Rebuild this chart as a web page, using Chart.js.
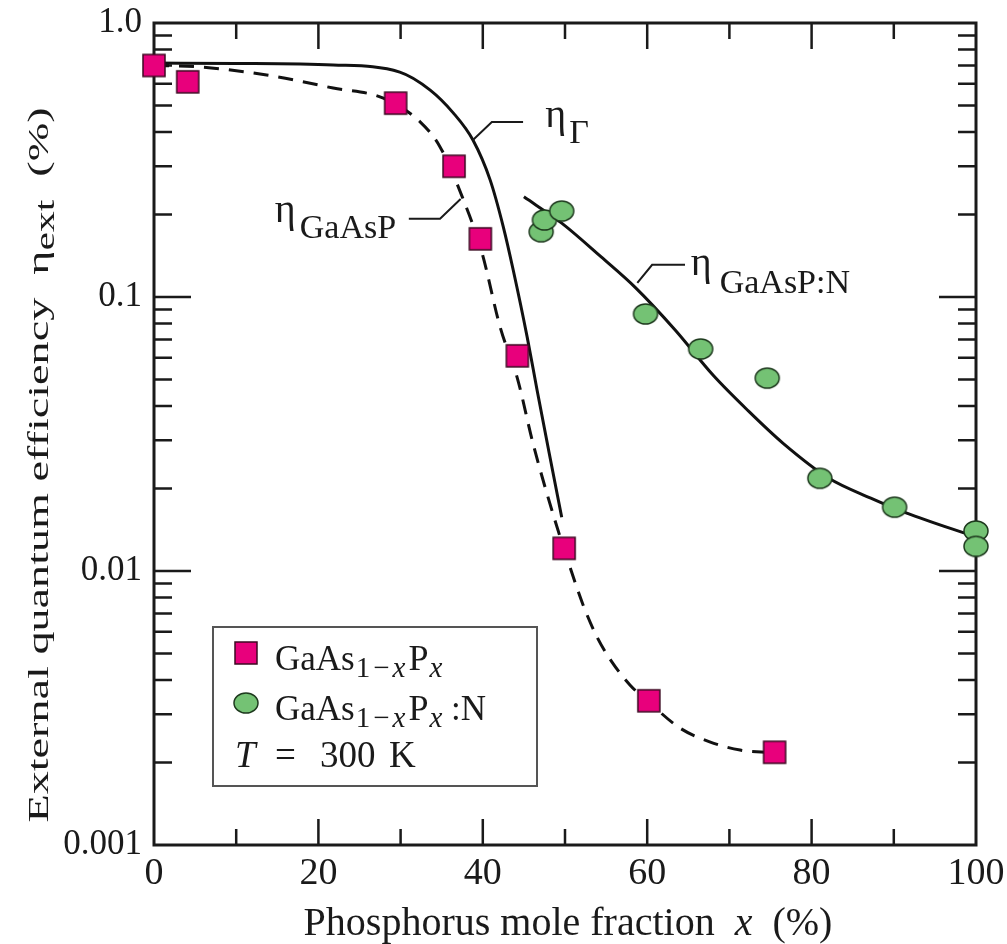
<!DOCTYPE html>
<html>
<head>
<meta charset="utf-8">
<script src="https://cdn.jsdelivr.net/npm/chart.js@4.4.1/dist/chart.umd.min.js"></script>
<style>
  html, body { margin: 0; padding: 0; background: #fff; }
  canvas { display: block; }
</style>
</head>
<body>
<canvas id="chart" width="1007" height="944"></canvas>
<script>
// measured GaAs(1-x)P(x) points
const gaaspX   = [0, 4.1, 29.4, 36.5, 39.7, 44.2, 49.9, 60.2, 75.5];
const gaaspEta = [0.70, 0.61, 0.51, 0.30, 0.163, 0.061, 0.0121, 0.00336, 0.00218];

// measured GaAs(1-x)P(x):N points
const nitroX   = [47.1, 47.5, 49.6, 59.8, 66.5, 74.6, 81.0, 90.1, 100, 100];
const nitroEta = [0.173, 0.191, 0.206, 0.0867, 0.0646, 0.0506, 0.0218, 0.0171, 0.0140, 0.0123];

// eta_Gamma curve (solid)
const gammaX   = [0, 10, 21.8, 29.9, 33.6, 36.4, 38.8, 40.9, 42.5, 43.7, 45.4, 46.6, 48.05, 49.6];
const gammaEta = [0.714, 0.712, 0.703, 0.662, 0.569, 0.470, 0.374, 0.267, 0.180, 0.1255, 0.0714, 0.0458, 0.0272, 0.0157];

// eta_GaAsP curve (dashed)
const dashX   = [0, 5.6, 13.7, 21.8, 27.9, 32.4, 34.8, 37.5, 39.9, 42.1, 44.2, 46.1, 48.5, 50.6, 52.2, 53.9, 55.7, 57.9, 60.3, 64.0, 67.6, 71.3, 74.3];
const dashEta = [0.70, 0.691, 0.646, 0.579, 0.532, 0.435, 0.353, 0.232, 0.145, 0.0778, 0.0506, 0.0293, 0.0163, 0.01035, 0.00752, 0.00574, 0.00466, 0.00384, 0.00330, 0.00267, 0.00238, 0.00222, 0.00218];

// eta_GaAsP:N curve (solid)
const nCurveX   = [45.0, 49.6, 54.4, 58.6, 63.4, 68.0, 72.3, 76.5, 82.1, 87.2, 91.5, 100];
const nCurveEta = [0.232, 0.186, 0.140, 0.108, 0.0758, 0.0519, 0.0384, 0.0293, 0.0218, 0.01845, 0.0163, 0.0133];

// axis ticks
const xTickValues = [10, 20, 30, 40, 50, 60, 70, 80, 90];
const yDecades = [0.001, 0.01, 0.1];
const yMantissas = [2, 3, 4, 5, 6, 7, 8, 9];
const yLabelValues = [0.001, 0.01, 0.1, 1];

const FONT = '"Liberation Serif", "Times New Roman", serif';
const PINK = '#e8007c';
const GREEN = '#74c274';

function pts(xs, ys) { return xs.map((x, i) => ({ x: x, y: ys[i] })); }

function makeSquare() {
    const c = document.createElement('canvas');
    c.width = 26; c.height = 26;
    const g = c.getContext('2d');
    g.fillStyle = PINK;
    g.fillRect(2, 2, 22, 22);
    g.strokeStyle = '#3b0a22';
    g.lineWidth = 1.5;
    g.strokeRect(2, 2, 22, 22);
    return c;
}
function makeEllipse() {
    const c = document.createElement('canvas');
    c.width = 28; c.height = 24;
    const g = c.getContext('2d');
    g.beginPath();
    g.ellipse(14, 12, 12, 10, 0, 0, Math.PI * 2);
    g.fillStyle = GREEN;
    g.fill();
    g.strokeStyle = '#1e3a1e';
    g.lineWidth = 1.5;
    g.stroke();
    return c;
}
const squareImg = makeSquare();
const ellipseImg = makeEllipse();

function font(size, italic) { return (italic ? 'italic ' : '') + size + 'px ' + FONT; }

// parts: [text, size, italic, dy, gapAfter]
function rich(ctx, x, y, parts, align) {
    let w = 0;
    parts.forEach(p => { ctx.font = font(p[1], p[2]); w += ctx.measureText(p[0]).width + (p[4] || 0); });
    let cx = align === 'center' ? x - w / 2 : x;
    ctx.textBaseline = 'alphabetic';
    ctx.textAlign = 'left';
    parts.forEach(p => {
        ctx.font = font(p[1], p[2]);
        ctx.fillText(p[0], cx, y + (p[3] || 0));
        cx += ctx.measureText(p[0]).width + (p[4] || 0);
    });
    return w;
}

// curve labels, positions in data units
const curveLabels = [
    { leader: [[38.8, 0.374], [41.1, 0.435], [44.9, 0.435]], at: [47.6, 0.417],
      parts: [['\u03b7', 40, false, 0, 3], ['\u0393', 34, false, 16]] },
    { leader: [[31.0, 0.193], [34.8, 0.193], [37.3, 0.228]], at: [14.7, 0.188],
      parts: [['\u03b7', 40, false, 0, 4], ['GaAsP', 34, false, 16]] },
    { leader: [[58.8, 0.1125], [60.6, 0.131], [64.6, 0.131]], at: [65.3, 0.120],
      parts: [['\u03b7', 40, false, 0, 8], ['GaAsP:N', 34, false, 18]] }
];

const framePlugin = {
    id: 'frame',
    beforeDatasetsDraw(chart) {
        const ctx = chart.ctx;
        const { left, right, top, bottom } = chart.chartArea;
        const xs = chart.scales.x, ys = chart.scales.y;
        ctx.save();
        ctx.strokeStyle = '#1a1a1a';
        ctx.lineWidth = 2.5;
        ctx.beginPath();
        xTickValues.forEach(v => {
            const px = xs.getPixelForValue(v);
            const len = v % 20 === 0 ? 26 : 16;
            ctx.moveTo(px, bottom); ctx.lineTo(px, bottom - len);
            ctx.moveTo(px, top); ctx.lineTo(px, top + len);
        });
        yDecades.forEach(d => {
            if (d > 0.001) {
                const py = ys.getPixelForValue(d);
                ctx.moveTo(left, py); ctx.lineTo(left + 37, py);
                ctx.moveTo(right, py); ctx.lineTo(right - 37, py);
            }
            yMantissas.forEach(m => {
                const py = ys.getPixelForValue(d * m);
                ctx.moveTo(left, py); ctx.lineTo(left + 18, py);
                ctx.moveTo(right, py); ctx.lineTo(right - 18, py);
            });
        });
        ctx.stroke();
        ctx.lineWidth = 3;
        ctx.strokeRect(left, top, right - left, bottom - top);
        ctx.restore();
    },
    afterDraw(chart) {
        const ctx = chart.ctx;
        const xs = chart.scales.x, ys = chart.scales.y;
        ctx.save();
        ctx.fillStyle = '#1a1a1a';
        ctx.strokeStyle = '#1a1a1a';

        // curve labels with leader lines
        curveLabels.forEach(l => {
            ctx.lineWidth = 2;
            ctx.beginPath();
            l.leader.forEach((p, i) => {
                const px = xs.getPixelForValue(p[0]), py = ys.getPixelForValue(p[1]);
                if (i === 0) ctx.moveTo(px, py); else ctx.lineTo(px, py);
            });
            ctx.stroke();
            rich(ctx, xs.getPixelForValue(l.at[0]), ys.getPixelForValue(l.at[1]), l.parts);
        });

        // legend box
        ctx.lineWidth = 2;
        ctx.strokeStyle = '#555';
        ctx.strokeRect(213, 627, 324, 159);
        ctx.drawImage(squareImg, 246 - 13, 653 - 13);
        ctx.drawImage(ellipseImg, 246 - 14, 703 - 12);
        ctx.fillStyle = '#1a1a1a';
        const sub = [['GaAs', 35, false, 0, 1], ['1', 29, false, 7, 3], ['\u2212', 29, false, 7, 3],
                     ['x', 29, true, 7, 3], ['P', 36, false, 0, 1], ['x', 29, true, 7]];
        rich(ctx, 275, 670, sub);
        rich(ctx, 275, 720, sub.concat([[' :N', 35]]));
        rich(ctx, 235, 767, [['T', 37, true]]);
        rich(ctx, 275, 767, [['=', 37]]);
        rich(ctx, 320, 767, [['300', 37]]);
        rich(ctx, 389, 767, [['K', 37]]);

        // x title
        rich(ctx, 568, 935, [['Phosphorus mole fraction  ', 40], ['x', 40, true], ['  (%)', 40]], 'center');

        // y title (stretched along its direction)
        ctx.translate(48, 465);
        ctx.rotate(-Math.PI / 2);
        const yParts = [['External quantum efficiency  \u03b7', 30], ['ext', 27, false, 6], ['  (%)', 30]];
        let w = 0;
        yParts.forEach(p => { ctx.font = font(p[1], p[2]); w += ctx.measureText(p[0]).width; });
        ctx.scale(715 / w, 1);
        rich(ctx, 0, 0, yParts, 'center');
        ctx.restore();
    }
};

new Chart(document.getElementById('chart'), {
    type: 'scatter',
    data: {
        datasets: [
            { label: 'GaAs1-xPx', data: pts(gaaspX, gaaspEta), pointStyle: squareImg,
              pointRadius: 11, pointHoverRadius: 11, showLine: false, clip: false, order: 0 },
            { label: 'GaAs1-xPx:N', data: pts(nitroX, nitroEta), pointStyle: ellipseImg,
              pointRadius: 11, pointHoverRadius: 11, showLine: false, clip: false, order: 0 },
            { label: 'eta Gamma', data: pts(gammaX, gammaEta), showLine: true, pointRadius: 0,
              borderColor: '#111', borderWidth: 3, cubicInterpolationMode: 'monotone', order: 1 },
            { label: 'eta GaAsP', data: pts(dashX, dashEta), showLine: true, pointRadius: 0,
              borderColor: '#111', borderWidth: 3, borderDash: [15, 10], cubicInterpolationMode: 'monotone', order: 1 },
            { label: 'eta GaAsP:N', data: pts(nCurveX, nCurveEta), showLine: true, pointRadius: 0,
              borderColor: '#111', borderWidth: 3, cubicInterpolationMode: 'monotone', order: 1 }
        ]
    },
    options: {
        responsive: false,
        animation: false,
        devicePixelRatio: 1,
        layout: { padding: { top: 23, right: 31, left: 0, bottom: 0 } },
        plugins: { legend: { display: false }, tooltip: { enabled: false } },
        scales: {
            x: {
                type: 'linear', min: 0, max: 100,
                grid: { display: false, drawTicks: false },
                border: { display: false },
                ticks: { stepSize: 20, maxRotation: 0, padding: 6, color: '#1a1a1a',
                         font: { family: FONT, size: 38 } },
                afterFit(s) { s.height = 99; s.paddingLeft = 0; s.paddingRight = 0; }
            },
            y: {
                type: 'logarithmic', min: 0.001, max: 1,
                grid: { display: false, drawTicks: false },
                border: { display: false },
                afterBuildTicks(s) { s.ticks = yLabelValues.map(v => ({ value: v })); },
                ticks: { padding: 12, color: '#1a1a1a', font: { family: FONT, size: 35 },
                         callback: v => (v === 1 ? '1.0' : String(v)) },
                afterFit(s) { s.width = 154; s.paddingTop = 0; s.paddingBottom = 0; }
            }
        }
    },
    plugins: [framePlugin]
});
</script>
</body>
</html>
